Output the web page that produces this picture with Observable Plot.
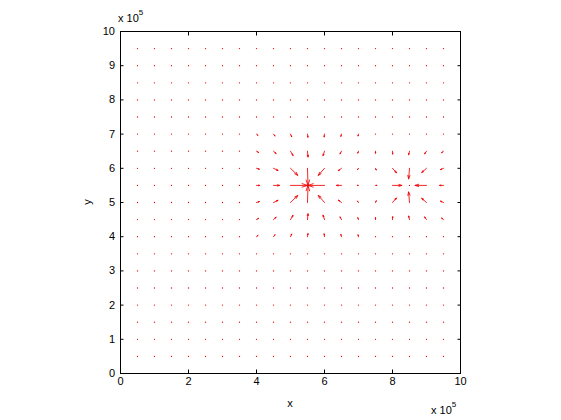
<!DOCTYPE html>
<html><head><meta charset="utf-8">
<script src="https://cdn.jsdelivr.net/npm/d3@7"></script>
<script src="https://cdn.jsdelivr.net/npm/@observablehq/plot@0.6"></script>
<style>body{margin:0;background:#fff}svg{display:block}</style>
</head><body><div id="chart"></div>
<script>
// grid positions (units of 1e5)
const gridValues = [0.5,1,1.5,2,2.5,3,3.5,4,4.5,5,5.5,6,6.5,7,7.5,8,8.5,9,9.5];
const xTicks = [0,2,4,6,8,10];
const yTicks = [0,1,2,3,4,5,6,7,8,9,10];

// visible arrows (position and components, units of 1e5)
const arrowX = [
  4,4.5,5,5.5,6,6.5,7,
  4,4.5,5,5.5,6,6.5,7,
  4,4.5,5,5.5,6,6.5,7,
  4,4.5,5,6,6.5,7,
  4,4.5,5,5.5,6,6.5,7,
  4,4.5,5,5.5,6,6.5,7,
  4,4.5,5,5.5,6,6.5,7,
  7.5,8,8.5,9,9.5,
  7.5,8,8.5,9,9.5,
  7.5,8,9,9.5,
  7.5,8,8.5,9,9.5,
  7.5,8,8.5,9,9.5
];
const arrowY = [
  7,7,7,7,7,7,7,
  6.5,6.5,6.5,6.5,6.5,6.5,6.5,
  6,6,6,6,6,6,6,
  5.5,5.5,5.5,5.5,5.5,5.5,
  5,5,5,5,5,5,5,
  4.5,4.5,4.5,4.5,4.5,4.5,4.5,
  4,4,4,4,4,4,4,
  6.5,6.5,6.5,6.5,6.5,
  6,6,6,6,6,
  5.5,5.5,5.5,5.5,
  5,5,5,5,5,
  4.5,4.5,4.5,4.5,4.5
];
const arrowU = [
  0.042,0.044,0.035,0.013,-0.010,-0.018,-0.014,
  0.062,0.076,0.074,0.015,-0.043,-0.043,-0.022,
  0.084,0.134,0.215,0.015,-0.182,-0.094,-0.031,
  0.094,0.176,0.5,-0.485,-0.147,-0.035,
  0.084,0.134,0.215,0.015,-0.182,-0.094,-0.031,
  0.062,0.076,0.074,0.015,-0.043,-0.043,-0.022,
  0.042,0.044,0.035,0.013,-0.010,-0.018,-0.014,
  0.001,0.005,-0.025,-0.056,-0.056,
  0.022,0.118,-0.026,-0.141,-0.090,
  0.043,0.274,-0.338,-0.115,
  0.022,0.118,-0.026,-0.141,-0.090,
  0.001,0.005,-0.025,-0.056,-0.056
];
const arrowV = [
  -0.037,-0.056,-0.079,-0.092,-0.084,-0.067,-0.056,
  -0.037,-0.069,-0.126,-0.171,-0.131,-0.079,-0.056,
  -0.026,-0.063,-0.206,-0.5,-0.207,-0.069,-0.040,
  0,0,0,0,0,0,
  0.026,0.063,0.206,0.5,0.207,0.069,0.040,
  0.037,0.069,0.126,0.171,0.131,0.079,0.056,
  0.037,0.056,0.079,0.092,0.084,0.067,0.056,
  -0.060,-0.085,-0.105,-0.078,-0.044,
  -0.049,-0.132,-0.309,-0.123,-0.038,
  0,0,0,0,
  0.049,0.132,0.309,0.123,0.038,
  0.060,0.085,0.105,0.078,0.044
];

const arrows = arrowX.map((x, i) => ({x, y: arrowY[i], u: arrowU[i], v: arrowV[i]}));
const arrowKey = new Set(arrows.map(d => d.x + "," + d.y));
const dots = gridValues.flatMap(x => gridValues.map(y => ({x, y})))
  .filter(d => !arrowKey.has(d.x + "," + d.y));

const fontFamily = "'Liberation Sans', Arial, Helvetica, sans-serif";
const red = "#f00000";

const plot = Plot.plot({
  width: 561, height: 420,
  marginLeft: 120, marginRight: 101, marginTop: 31, marginBottom: 47,
  x: {domain: [0, 10]},
  y: {domain: [0, 10]},
  style: {fontFamily, fontSize: "11px", background: "white", color: "black"},
  marks: [
    Plot.dot(dots, {x: "x", y: "y", r: 0.65, fill: red}),
    Plot.arrow(arrows, {
      x1: "x", y1: "y", x2: d => d.x + d.u, y2: d => d.y + d.v,
      stroke: red, strokeWidth: 0.85, headAngle: 36, headLength: 30
    }),
    Plot.frame({stroke: "black"}),
    Plot.axisX({anchor: "bottom", ticks: xTicks, tickSize: -3.5, tickPadding: 7, label: null, tickFormat: d => String(d)}),
    Plot.axisX({anchor: "top", ticks: xTicks, tickSize: -3.5, tickFormat: () => "", label: null}),
    Plot.axisY({anchor: "left", ticks: yTicks, tickSize: -3.5, tickPadding: 9, label: null, tickFormat: d => String(d)}),
    Plot.axisY({anchor: "right", ticks: yTicks, tickSize: -3.5, tickFormat: () => "", label: null})
  ]
});

document.getElementById("chart").appendChild(plot);

const svg = d3.select(plot);
const sx = plot.scale("x"), sy = plot.scale("y");
const g = svg.append("g").attr("font-family", fontFamily).attr("font-size", 11).attr("fill", "black");
// axis labels
g.append("text").attr("x", sx.apply(5)).attr("y", 407).attr("text-anchor", "middle").text("x");
g.append("text").attr("transform", `translate(91,${sy.apply(5)}) rotate(-90)`).attr("text-anchor", "middle").text("y");
// exponent labels
const e1 = g.append("text").attr("x", 118).attr("y", 22).attr("text-anchor", "start");
e1.append("tspan").text("x 10");
e1.append("tspan").attr("dy", -7).attr("font-size", 8).text("5");
const e2 = g.append("text").attr("x", 431).attr("y", 414).attr("text-anchor", "start");
e2.append("tspan").text("x 10");
e2.append("tspan").attr("dy", -7).attr("font-size", 8).text("5");
</script>
</body></html>
